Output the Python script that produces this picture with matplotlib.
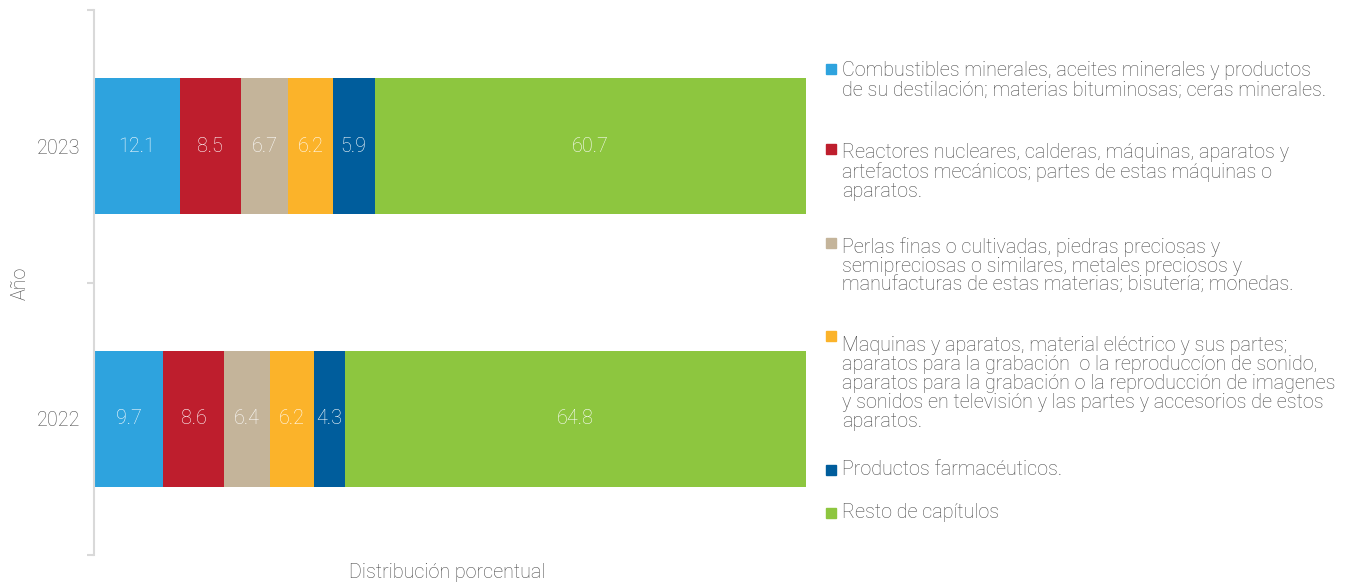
import numpy as np
import matplotlib
matplotlib.use("Agg")
import matplotlib.pyplot as plt
from matplotlib.patches import Rectangle

plt.rcParams['font.family'] = ['Roboto', 'DejaVu Sans']

years = ['2022', '2023']
categories = [
    'Combustibles minerales, aceites minerales y productos\nde su destilación; materias bituminosas; ceras minerales.',
    'Reactores nucleares, calderas, máquinas, aparatos y\nartefactos mecánicos; partes de estas máquinas o\naparatos.',
    'Perlas finas o cultivadas, piedras preciosas y\nsemipreciosas o similares, metales preciosos y\nmanufacturas de estas materias; bisutería; monedas.',
    'Maquinas y aparatos, material eléctrico y sus partes;\naparatos para la grabación  o la reproduccíon de sonido,\naparatos para la grabación o la reproducción de imagenes\ny sonidos en televisión y las partes y accesorios de estos\naparatos.',
    'Productos farmacéuticos.',
    'Resto de capítulos',
]
values_2022 = [9.7, 8.6, 6.4, 6.2, 4.3, 64.8]
values_2023 = [12.1, 8.5, 6.7, 6.2, 5.9, 60.7]
colors = ['#2EA3DE', '#BE1E2D', '#C4B49A', '#FBB32A', '#005D9C', '#8DC63F']

W, H = 1350, 582
TXT = '#4a4a4a'
FS = 14.2
WT = 'light'

fig = plt.figure(figsize=(W / 100, H / 100), dpi=100)
ax = fig.add_axes([94 / W, 1 - 555 / H, (806 - 94) / W, (555 - 10) / H])

data = np.array([values_2022, values_2023])
y = np.arange(len(years))
left = np.zeros(len(years))
for i, col in enumerate(colors):
    bars = ax.barh(y, data[:, i], left=left, height=0.5, color=col)
    ax.bar_label(bars, labels=[f'{v:.1f}' for v in data[:, i]], label_type='center',
                 color='white', fontsize=FS, fontweight=WT)
    left += data[:, i]

ax.set_xlim(0, 100)
ax.set_ylim(-0.5, 1.5)

# frame
for s in ['top', 'right', 'bottom']:
    ax.spines[s].set_visible(False)
ax.spines['left'].set_color('#d9d9d9')
ax.spines['left'].set_linewidth(1.5)
ax.set_xticks([])
ax.set_yticks([-0.5, 0.5, 1.5])
ax.set_yticklabels([])
ax.tick_params(axis='y', which='major', length=5, width=1.5, color='#d9d9d9')
ax.set_yticks(y, minor=True)
ax.set_yticklabels(years, minor=True)
ax.tick_params(axis='y', which='minor', length=0, pad=10, labelsize=FS, labelcolor=TXT)
for t in ax.get_yticklabels(minor=True):
    t.set_fontweight(WT)

fig.text(20 / W, 1 - 283 / H, 'Año', rotation=90, ha='center', va='center',
         fontsize=FS, color=TXT, fontweight=WT)
fig.text(447 / W, 1 - 572 / H, 'Distribución porcentual', ha='center', va='center',
         fontsize=FS, color=TXT, fontweight=WT)

# legend, drawn by hand to follow the wrapped labels
baselines = [74, 154, 248, 341, 475, 518]
for lab, col, b in zip(categories, colors, baselines):
    fig.patches.append(Rectangle((826 / W, 1 - b / H), 10 / W, 10 / H,
                                 transform=fig.transFigure, color=col))
    nlines = lab.count('\n')
    fig.text(842 / W, 1 - (b + nlines * 21.5) / H, lab, ha='left', va='baseline',
             fontsize=FS, color=TXT, fontweight=WT, linespacing=1.0)

fig.savefig('out.png', dpi=100)
